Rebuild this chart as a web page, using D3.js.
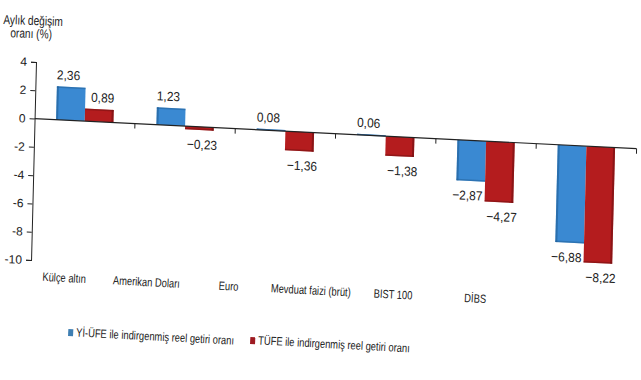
<!DOCTYPE html>
<html><head><meta charset="utf-8">
<script src="https://cdn.jsdelivr.net/npm/d3@7"></script>
<style>
html,body{margin:0;padding:0;background:#fff;}
text{font-family:"Liberation Sans",Arial,sans-serif;fill:#222;}
</style></head>
<body><svg id="c" width="641" height="380"></svg>
<script>
const categories = ["Külçe altın","Amerikan Doları","Euro","Mevduat faizi (brüt)","BIST 100","DİBS"];
const seriesNames = ["Yİ-ÜFE ile indirgenmiş reel getiri oranı","TÜFE ile indirgenmiş reel getiri oranı"];
const yiufe = [2.36, 1.23, 0.08, 0.06, -2.87, -6.88];
const tufe = [0.89, -0.23, -1.36, -1.38, -4.27, -8.22];
const yTicks = [4, 2, 0, -2, -4, -6, -8, -10];
const colors = ["#3a89d2", "#b41c1e"];
const edge = ["#1f5e94", "#6e0f10"];

const svg = d3.select("#c");
const W = 602, H = 198;
const SX = 0.78; // condensed text
// slight perspective-like skew of the original picture
const g = svg.append("g").attr("transform", "matrix(1,0.05,-0.025,1,36,62)");

const x = d3.scaleBand().domain(categories).range([0, W]).paddingInner(0).paddingOuter(0);
const xs = d3.scaleBand().domain([0,1]).range([0, x.bandwidth()]).paddingInner(0).paddingOuter(0.75);
const y = d3.scaleLinear().domain([-10, 4]).range([H, 0]);

const fmt = v => d3.format(".2f")(v).replace(".", ",");

function ctext(parent, cx, cy, rot, sx, txt, anchor, size) {
  return parent.append("text")
    .attr("transform", `translate(${cx},${cy}) rotate(${rot}) scale(${sx},1)`)
    .attr("text-anchor", anchor).attr("font-size", size).text(txt);
}

// axis
const yAxis = d3.axisLeft(y).tickValues(yTicks).tickSize(5).tickPadding(4).tickFormat(d => d);
const ya = g.append("g").call(yAxis);
ya.select(".domain").attr("stroke", "#222");
ya.selectAll(".tick line").attr("stroke", "#222");
ya.selectAll(".tick text").attr("font-size", 12).style("fill", "#222");

const data = categories.map((c, i) => ({c, v: [yiufe[i], tufe[i]]}));

// bars
data.forEach(d => {
  d.v.forEach((v, s) => {
    const x0 = x(d.c) + xs(s), w = xs.bandwidth();
    const yTop = y(Math.max(0, v)), h = Math.abs(y(v) - y(0));
    g.append("rect").attr("x", x0).attr("y", yTop).attr("width", w).attr("height", h)
      .attr("fill", colors[s]);
    g.append("rect").attr("x", s === 0 ? x0 : x0 + w - 2).attr("y", yTop).attr("width", 2).attr("height", h)
      .attr("fill", edge[s]).attr("opacity", 0.6);
    g.append("rect").attr("x", x0).attr("y", v < 0 ? y(v) - 1.5 : yTop).attr("width", w).attr("height", 1.5)
      .attr("fill", edge[s]).attr("opacity", 0.5);
  });
});

// zero line
g.append("line").attr("x1", 0).attr("x2", W).attr("y1", y(0)).attr("y2", y(0)).attr("stroke", "#222").attr("stroke-width", 1.2);
g.selectAll(".ct").data(categories).enter().append("line")
  .attr("x1", d => x(d) + x.step()).attr("x2", d => x(d) + x.step())
  .attr("y1", y(0)).attr("y2", y(0) + 5).attr("stroke", "#222");

// value labels
data.forEach(d => {
  d.v.forEach((v, s) => {
    const cx = x(d.c) + xs(s) + xs.bandwidth() / 2 + (s === 0 ? -3 : 3);
    const cy = v >= 0 ? y(v) - 7 : y(v) + 19;
    ctext(g, cx, cy, 0, 0.92, fmt(v), "middle", 13);
  });
});

// axis title
ctext(svg, 33, 25, 2, SX, "Aylık değişim", "middle", 13);
ctext(svg, 31, 38, 2, SX, "oranı (%)", "middle", 13);

// category labels
const lx = d3.scalePoint().domain(categories).range([64, 475]);
categories.forEach(c => {
  const cx = lx(c), cy = 282 + (cx - 64) * 0.05;
  ctext(svg, cx, cy, 3, SX, c, "middle", 12);
});

// legend
const leg = [[68, 336], [250, 344]];
seriesNames.forEach((n, i) => {
  const [lx0, ly0] = leg[i];
  const lg = svg.append("g").attr("transform", `rotate(3,${lx0},${ly0})`);
  lg.append("rect").attr("x", lx0).attr("y", ly0 - 7).attr("width", 5).attr("height", 7).attr("fill", i === 0 ? "#3f7fb3" : "#9e1b22");
  ctext(lg, lx0 + 8, ly0, 0, SX, n, "start", 12);
});
</script></body></html>
